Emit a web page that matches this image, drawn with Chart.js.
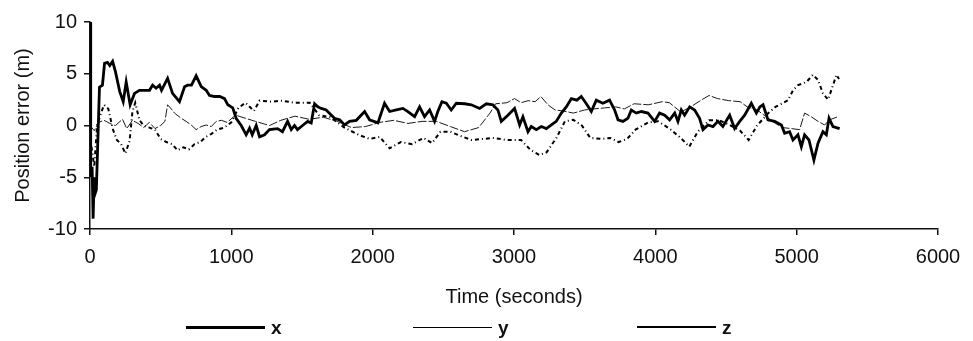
<!DOCTYPE html>
<html>
<head>
<meta charset="utf-8">
<title>Position error</title>
<script src="https://cdn.jsdelivr.net/npm/chart.js@4.4.1/dist/chart.umd.min.js"></script>
<style>
    html, body { margin: 0; padding: 0; background: #fff; }
    #wrap { position: relative; width: 973px; height: 341px; }
</style>
</head>
<body>
<div id="wrap"><canvas id="chart"></canvas></div>
<script>
// series x (thick line)
var xTimes = [
    0, 5, 15, 22, 30, 38, 45, 67, 88, 103,
    124, 140, 160, 180, 210, 235, 256, 284, 315, 350,
    421, 443, 468, 492, 506, 549, 584, 633, 669, 690,
    718, 751, 787, 822, 846, 881, 918, 952, 975, 1010,
    1034, 1070, 1105, 1129, 1148, 1176, 1200, 1235, 1270, 1327,
    1362, 1398, 1424, 1447, 1468, 1504, 1540, 1565, 1589, 1612,
    1636, 1671, 1730, 1766, 1801, 1836, 1884, 1943, 1978, 2037,
    2084, 2120, 2167, 2214, 2249, 2297, 2332, 2367, 2403, 2438,
    2461, 2490, 2521, 2556, 2592, 2651, 2698, 2757, 2804, 2850,
    2886, 2910, 2957, 3004, 3040, 3063, 3099, 3122, 3158, 3193,
    3229, 3264, 3299, 3335, 3370, 3406, 3445, 3476, 3512, 3547,
    3582, 3629, 3676, 3712, 3736, 3771, 3806, 3830, 3865, 3901,
    3948, 3995, 4030, 4066, 4101, 4137, 4160, 4184, 4207, 4243,
    4278, 4313, 4337, 4372, 4408, 4443, 4478, 4526, 4561, 4597,
    4632, 4679, 4715, 4740, 4762, 4797, 4844, 4892, 4915, 4950,
    4974, 5009, 5033, 5056, 5087, 5122, 5151, 5186, 5210, 5229,
    5257, 5304
];
var xErrors = [
    10, -5, -4, -9, -5, -6.5, -6.2, 3.7, 3.9, 6.0,
    6.1, 5.8, 6.2, 5.2, 3.3, 2.3, 4.2, 2.0, 3.1, 3.4,
    3.4, 3.9, 3.6, 3.9, 3.4, 4.55, 3.1, 2.3, 3.75, 3.9,
    3.9, 4.8, 3.75, 3.4, 2.9, 2.8, 2.8, 2.6, 2.0, 1.7,
    0.7, 0.0, -0.9, -0.25, -0.9, 0.0, -1.1, -0.9, -0.4, -0.3,
    -0.6, 0.4, -0.4, 0.0, -0.4, 0.0, 0.4, 0.25, 2.1, 1.8,
    1.65, 1.5, 0.7, 0.55, 0.05, 0.4, 0.5, 1.35, 0.55, 0.25,
    2.15, 1.35, 1.5, 1.65, 1.35, 0.85, 1.8, 0.85, 1.5, 0.4,
    1.35, 2.3, 2.15, 1.5, 2.15, 2.1, 2.0, 1.65, 2.1, 2.0,
    1.5, 0.4, 1.0, 1.65, 0.05, 0.85, -0.6, -0.1, -0.4, -0.1,
    -0.3, 0.05, 0.4, 1.2, 1.8, 2.6, 2.45, 2.8, 2.1, 1.35,
    2.45, 2.15, 2.45, 1.5, 0.55, 0.4, 0.7, 1.5, 1.2, 1.35,
    1.2, 0.4, 1.2, 1.0, 0.55, 1.2, 0.4, 1.5, 1.0, 1.8,
    1.5, 0.7, -0.4, 0.05, -0.1, 0.4, -0.1, 1.0, -0.3, 0.4,
    1.0, 2.15, 1.2, 1.8, 2.0, 0.55, 0.4, 0.05, -0.75, -0.6,
    -1.4, -0.9, -2.05, -0.9, -1.4, -3.35, -1.7, -0.6, -0.9, 0.7,
    -0.1, -0.3
];

// series y (thin line)
var yTimes = [
    0, 30, 60, 100, 140, 180, 230, 260, 300, 340,
    380, 420, 460, 500, 530, 549, 575, 598, 645, 680,
    716, 751, 787, 822, 858, 893, 930, 970, 1030, 1100,
    1170, 1270, 1350, 1450, 1550, 1650, 1750, 1850, 1950, 2050,
    2150, 2250, 2350, 2450, 2550, 2650, 2750, 2830, 2870, 2950,
    3004, 3050, 3100, 3150, 3190, 3240, 3290, 3350, 3420, 3500,
    3560, 3640, 3720, 3780, 3850, 3950, 4050, 4100, 4180, 4250,
    4330, 4380, 4440, 4520, 4600, 4650, 4720, 4780, 4850, 4900,
    4962, 5021, 5056, 5103, 5151, 5198, 5233, 5292
];
var yErrors = [
    0, -0.5, 0.3, 0.5, 0.2, 0.0, 0.6, -0.3, 0.5, 0.2,
    -0.2, 0.3, -0.3, 0.0, 0.4, 2.0, 1.6, 1.2, 0.7, 0.4,
    0.05, -0.4, -0.1, 0.05, -0.1, 0.4, 0.5, 0.3, 1.0, 0.7,
    0.4, 0.0, 0.5, 0.9, 0.6, 0.8, 0.4, -0.2, -0.1, 0.3,
    0.5, 0.2, 0.4, 0.4, -0.1, -0.6, -0.2, 1.2, 2.1, 2.2,
    2.6, 2.2, 2.4, 2.3, 2.8, 2.0, 1.5, 1.4, 1.2, 1.5,
    1.6, 1.7, 1.8, 1.6, 2.1, 2.0, 2.3, 2.2, 1.3, 1.8,
    2.5, 2.9, 2.6, 2.4, 2.3, 1.8, 1.5, 0.9, 0.2, -0.2,
    -0.3, -0.4, 1.2, 0.85, 0.4, 0.05, 0.55, 0.85
];

// series z (broken medium line)
var zTimes = [
    0, 30, 50, 80, 100, 130, 160, 190, 220, 250,
    280, 300, 320, 350, 380, 420, 460, 500, 540, 580,
    620, 660, 700, 740, 780, 820, 860, 900, 950, 1000,
    1050, 1100, 1160, 1200, 1285, 1350, 1450, 1555, 1620, 1700,
    1800, 1900, 1980, 2050, 2120, 2200, 2280, 2360, 2420, 2480,
    2550, 2620, 2700, 2780, 2850, 2950, 3050, 3120, 3180, 3230,
    3300, 3360, 3420, 3480, 3540, 3620, 3680, 3740, 3800, 3860,
    3950, 4020, 4100, 4180, 4240, 4300, 4380, 4450, 4520, 4600,
    4660, 4720, 4800, 4850, 4892, 4939, 4974, 5010, 5069, 5115,
    5151, 5186, 5222, 5260, 5281, 5300
];
var zErrors = [
    -1, -4, 0, 1.3, 2.0, 1.6, -0.3, -1.4, -1.8, -2.7,
    -1.5, 1.3, 2.2, 0.5, 0.0, -0.2, -0.4, -1.3, -1.6, -1.8,
    -2.4, -2.1, -2.3, -1.8, -1.6, -1.1, -0.8, -0.4, -0.2, 0.3,
    1.7, 2.2, 1.4, 2.4, 2.3, 2.4, 2.2, 2.2, 1.0, 0.8,
    -0.2, -0.9, -1.3, -1.1, -2.2, -1.6, -1.8, -1.2, -1.7, -0.6,
    -0.6, -1.0, -1.4, -1.3, -1.2, -1.4, -1.4, -2.4, -2.85, -2.6,
    -1.2, 0.4, 0.55, 0.0, -1.2, -1.3, -1.2, -1.6, -1.3, -0.4,
    0.3, 0.4, -0.3, -1.2, -2.05, -0.6, 0.5, 0.5, 0.1, -0.5,
    -1.4, 0.0, 1.2, 1.8, 2.1, 2.45, 3.4, 3.9, 4.2, 4.9,
    4.4, 3.1, 2.5, 4.0, 4.9, 4.5
];

var seriesNames = ['x', 'y', 'z'];
var yTickValues = [-10, -5, 0, 5, 10];
var xTickValues = [0, 1000, 2000, 3000, 4000, 5000, 6000];

var FONT = '"Liberation Sans", Arial, Helvetica, sans-serif';
var INK = '#111';

// legend layout
var legendStart = [186, 413, 637];
var legendLineLen = 79;
var legendY = 327;

function toPoints(times, values){
    var out = [];
    for(var i = 0; i < times.length; i++){
        out.push({x: times[i], y: values[i]});
    }
    return out;
}

function plainLabel(value){
    return String(value);
}

var lineLegend = {
    id: 'lineLegend',
    afterDraw: function(chart){
        var ctx = chart.ctx;
        ctx.save();
        chart.data.datasets.forEach(function(ds, i){
            var x0 = legendStart[i];
            // odd widths sit on a half pixel so they stay crisp
            var ly = (ds.legendWidth % 2 === 1) ? legendY + 0.5 : legendY;
            ctx.beginPath();
            ctx.setLineDash([]);
            ctx.lineWidth = ds.legendWidth;
            ctx.strokeStyle = '#000';
            ctx.moveTo(x0, ly);
            ctx.lineTo(x0 + legendLineLen, ly);
            ctx.stroke();
            ctx.font = 'bold 19px ' + FONT;
            ctx.fillStyle = INK;
            ctx.textBaseline = 'middle';
            ctx.fillText(ds.label, x0 + legendLineLen + 6, legendY + 2);
        });
        ctx.restore();
    }
};

function buildChart(){
    Chart.defaults.font.family = FONT;
    Chart.defaults.color = INK;
    var ctx = document.getElementById('chart').getContext('2d');
    new Chart(ctx, {
        type: 'line',
        data: {
            datasets: [
                {label: seriesNames[0], data: toPoints(xTimes, xErrors), borderColor: '#000', borderWidth: 2.8, legendWidth: 3, pointRadius: 0, tension: 0},
                {label: seriesNames[1], data: toPoints(yTimes, yErrors), borderColor: '#1a1a1a', borderWidth: 1, borderDash: [9, 2], legendWidth: 1, pointRadius: 0, tension: 0},
                {label: seriesNames[2], data: toPoints(zTimes, zErrors), borderColor: '#000', borderWidth: 2, borderDash: [4, 3, 1, 3], legendWidth: 2, pointRadius: 0, tension: 0}
            ]
        },
        options: {
            responsive: true,
            maintainAspectRatio: false,
            animation: false,
            devicePixelRatio: 1,
            layout: {padding: {top: 22, right: 35, bottom: 30, left: 0}},
            plugins: {legend: {display: false}, tooltip: {enabled: false}},
            scales: {
                x: {
                    type: 'linear',
                    min: 0,
                    max: 6000,
                    afterBuildTicks: function(scale){
                        scale.ticks = xTickValues.map(function(v){ return {value: v}; });
                    },
                    ticks: {color: INK, font: {size: 20}, padding: 10, maxRotation: 0, callback: plainLabel},
                    grid: {drawOnChartArea: false, drawTicks: true, tickLength: 6, color: INK, lineWidth: 1.5},
                    border: {display: true, color: INK, width: 1.5},
                    title: {display: true, text: 'Time (seconds)', color: INK, font: {size: 20}, padding: {top: 0, bottom: 2}},
                    afterFit: function(scale){ scale.height = 82; }
                },
                y: {
                    type: 'linear',
                    min: -10,
                    max: 10,
                    afterBuildTicks: function(scale){
                        scale.ticks = yTickValues.map(function(v){ return {value: v}; });
                    },
                    ticks: {color: INK, font: {size: 20}, padding: 7, callback: plainLabel},
                    grid: {drawOnChartArea: false, drawTicks: true, tickLength: 6, color: INK, lineWidth: 1.5},
                    border: {display: true, color: INK, width: 1.5},
                    title: {display: true, text: 'Position error (m)', color: INK, font: {size: 20}, padding: {top: 11, bottom: 0}},
                    afterFit: function(scale){ scale.width = 90; }
                }
            }
        },
        plugins: [lineLegend]
    });
}

buildChart();
</script>
</body>
</html>
